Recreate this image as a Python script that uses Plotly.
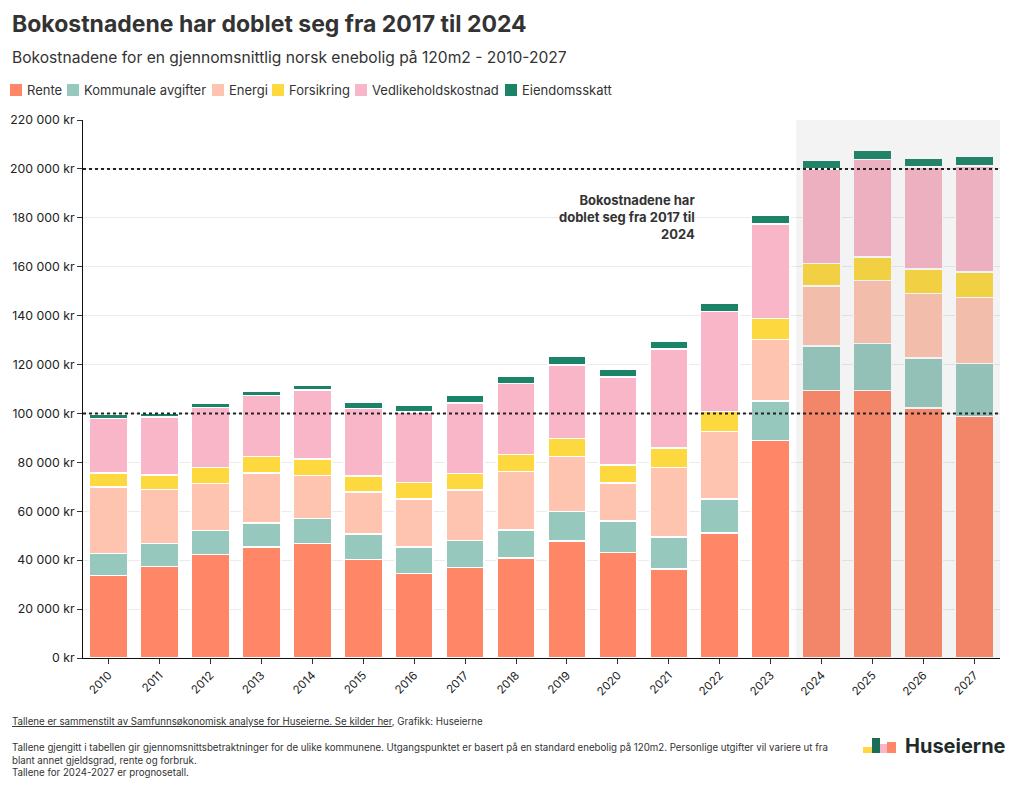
import plotly.graph_objects as go

years = [str(y) for y in range(2010, 2028)]

rente = [33700, 37500, 42400, 45300, 46900, 40200, 34600, 37100, 40800, 47800,
         43200, 36300, 51100, 89000, 109300, 109300, 102200, 98700]
kommunale = [9000, 9400, 9800, 10000, 10200, 10500, 10800, 11000, 11500, 12200,
             12800, 13200, 13900, 16000, 18300, 19400, 20500, 21800]
energi = [27200, 22100, 19200, 20300, 17600, 17100, 19600, 20600, 24000, 22500,
          15600, 28500, 27700, 25300, 24600, 25600, 26400, 27000]
forsikring = [5700, 5800, 6400, 6700, 6700, 6700, 6800, 6800, 7000, 7200,
              7300, 7900, 8100, 8600, 9200, 9600, 10000, 10300]
vedlikehold = [22400, 23700, 24600, 25100, 28200, 27600, 28700, 28800, 28900, 30200,
               36100, 40500, 40800, 38600, 38600, 40000, 41600, 43400]
eiendomsskatt = [1500, 1500, 1900, 1800, 2000, 2600, 2800, 3200, 3200, 3300,
                 2900, 3100, 3400, 3500, 3600, 3700, 3800, 4000]

series_names = ["Rente", "Kommunale avgifter", "Energi", "Forsikring",
                "Vedlikeholdskostnad", "Eiendomsskatt"]
series_values = [rente, kommunale, energi, forsikring, vedlikehold, eiendomsskatt]
colors = ["#FF8767", "#97C8BE", "#FEC4AF", "#FDD93F", "#F9B6C9", "#1B8468"]

y_ticks = list(range(0, 220001, 20000))
y_ticktext = [f"{v:,}".replace(",", " ") + " kr" for v in y_ticks]
ref_lines = [100000, 200000]
forecast_start = "2024"

FONT = "Inter, Roboto, sans-serif"

fig = go.Figure()
for name, vals, col in zip(series_names, series_values, colors):
    fig.add_trace(go.Bar(
        x=years, y=vals, name=name, showlegend=False,
        marker=dict(color=col, line=dict(color="white", width=1.5)),
        hovertemplate="%{x}: %{y:,.0f} kr<extra>" + name + "</extra>",
    ))

W, H = 1020, 791
ml, mr, mt, mb = 83, 20, 120, 133
pw, ph = W - ml - mr, H - mt - mb


def px(x):
    return (x - ml) / pw


def py(y):
    return (H - mb - y) / ph


# forecast shading (above bars, semi-transparent)
idx = years.index(forecast_start)
fig.add_shape(type="rect", xref="x", yref="paper", x0=idx - 0.5, x1=len(years) - 0.5,
              y0=0, y1=1, fillcolor="rgba(120,120,120,0.09)", line_width=0, layer="above")

for v in ref_lines:
    fig.add_shape(type="line", xref="paper", yref="y", x0=0, x1=1, y0=v, y1=v,
                  line=dict(color="#222222", width=2, dash="dot"), layer="above")

anns = []
anns.append(dict(text="<b>Bokostnadene har doblet seg fra 2017 til 2024</b>",
                 x=px(10), y=py(24), xref="paper", yref="paper", xanchor="left", yanchor="middle",
                 showarrow=False, font=dict(family=FONT, size=23, color="#333333")))
anns.append(dict(text="Bokostnadene for en gjennomsnittlig norsk enebolig på 120m2 - 2010-2027",
                 x=px(10), y=py(57), xref="paper", yref="paper", xanchor="left", yanchor="middle",
                 showarrow=False, font=dict(family=FONT, size=15.6, color="#333333")))
anns.append(dict(text="<b>Bokostnadene har<br>doblet seg fra 2017 til<br>2024</b>",
                 x=px(697), y=py(190), xref="paper", yref="paper", xanchor="right", yanchor="top",
                 align="right", showarrow=False,
                 font=dict(family=FONT, size=13, color="#333333")))
anns.append(dict(text="<u>Tallene er sammenstilt av Samfunnsøkonomisk analyse for Huseierne. Se kilder her</u>, Grafikk: Huseierne",
                 x=px(10), y=py(721), xref="paper", yref="paper", xanchor="left", yanchor="middle",
                 showarrow=False, font=dict(family=FONT, size=9.7, color="#333333")))
anns.append(dict(text="Tallene gjengitt i tabellen gir gjennomsnittsbetraktninger for de ulike kommunene. Utgangspunktet er basert på en standard enebolig på 120m2. Personlige utgifter vil variere ut fra<br>blant annet gjeldsgrad, rente og forbruk.<br>Tallene for 2024-2027 er prognosetall.",
                 x=px(10), y=py(740), xref="paper", yref="paper", xanchor="left", yanchor="top",
                 align="left", showarrow=False,
                 font=dict(family=FONT, size=9.7, color="#333333")))
anns.append(dict(text="<b>Huseierne</b>",
                 x=px(1008), y=py(746), xref="paper", yref="paper", xanchor="right", yanchor="middle",
                 showarrow=False, font=dict(family=FONT, size=20, color="#1E2B2A")))

# legend (key squares + labels)
legend_text_x = [26, 83, 228, 288, 371, 521]
legend_y = 90
for name, col, tx in zip(series_names, colors, legend_text_x):
    fig.add_shape(type="rect", xref="paper", yref="paper", x0=px(tx - 16), x1=px(tx - 4),
                  y0=py(legend_y + 6), y1=py(legend_y - 6), fillcolor=col, line_width=0)
    anns.append(dict(text=name, x=px(tx - 1), y=py(legend_y), xref="paper", yref="paper",
                     xanchor="left", yanchor="middle", showarrow=False,
                     font=dict(family=FONT, size=13, color="#333333")))

# logo blocks
logo = [
    (863, 747, 873, 753, "#FDD93F"),
    (872, 738, 880, 753, "#1B6E55"),
    (880, 744, 888, 753, "#F9B6C9"),
    (887, 742, 896, 753, "#FF8767"),
]
for x0, y0, x1, y1, c in logo:
    fig.add_shape(type="rect", xref="paper", yref="paper", x0=px(x0), x1=px(x1),
                  y0=py(y1), y1=py(y0), fillcolor=c, line_width=0, layer="above")

fig.update_layout(
    width=W, height=H,
    margin=dict(l=ml, r=mr, t=mt, b=mb, autoexpand=False),
    barmode="stack", bargap=0.25,
    plot_bgcolor="white", paper_bgcolor="white",
    font=dict(family=FONT, size=12, color="#222222"),
    annotations=anns,
    showlegend=False,
    xaxis=dict(type="category", showline=True, linecolor="#111111", linewidth=1,
               ticks="outside", ticklen=5, tickcolor="#333333", tickangle=-45,
               tickfont=dict(size=11.5, color="#222222"), showgrid=False,
               range=[-0.5, len(years) - 0.5]),
    yaxis=dict(range=[0, 220000], tickvals=y_ticks, ticktext=y_ticktext,
               showline=True, linecolor="#111111", linewidth=1,
               ticks="outside", ticklen=5, tickcolor="#333333",
               gridcolor="#EBEBEB", gridwidth=1, zeroline=False,
               tickfont=dict(size=12.3, color="#222222")),
)

fig.write_html("out.html")
